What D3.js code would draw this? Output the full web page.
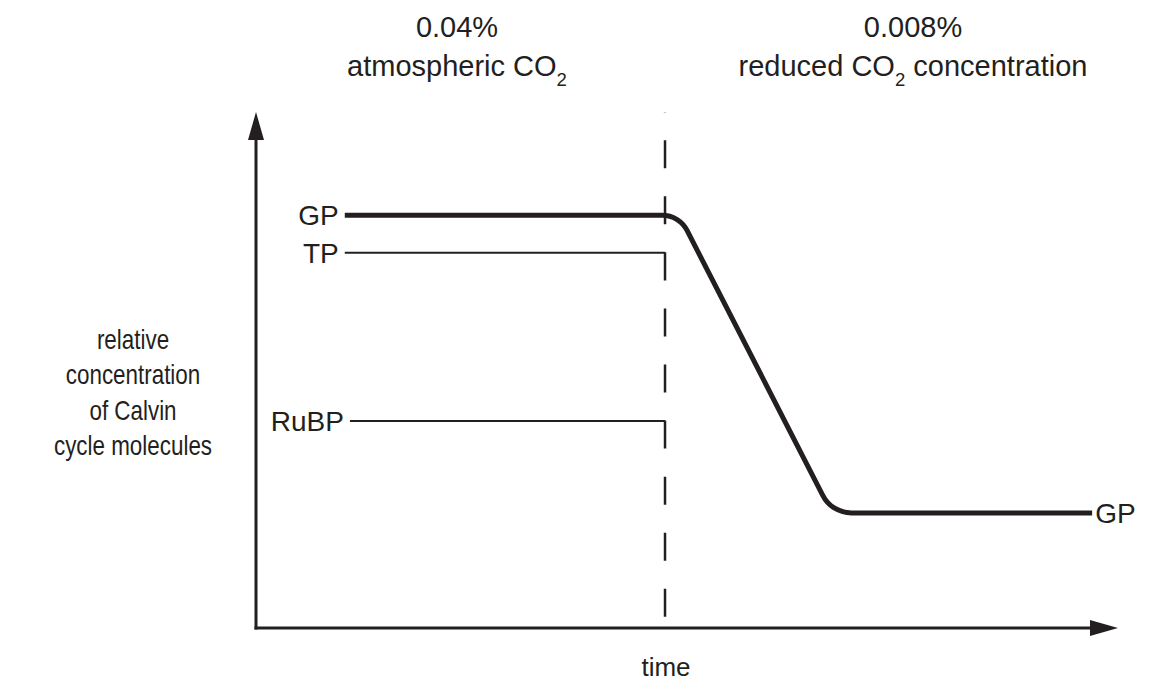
<!DOCTYPE html>
<html>
<head>
<meta charset="utf-8">
<script src="https://cdn.jsdelivr.net/npm/d3@7"></script>
<style>
  html, body { margin: 0; padding: 0; background: #fff; }
  svg { display: block; }
  text { font-family: "Liberation Sans", Arial, sans-serif; fill: #231f20; }
</style>
</head>
<body>
<script>
// ---- data (arbitrary time / relative concentration units) ----
const switchTime = 4.745;                 // CO2 reduced here (dashed line)
const lineStart = 1.03;
const lineStartRuBP = 1.09;
const gpTimes = [1.03, 4.91, 6.68, 9.70];
const gpValues = [8.0, 8.0, 2.23, 2.23];
const tpTimes = [1.03, 4.745];
const tpValues = [7.27, 7.27];
const rubpTimes = [1.09, 4.745];
const rubpValues = [4.01, 4.01];
const leftLabels = ["GP", "TP", "RuBP"];
const leftLabelValues = [8.0, 7.27, 4.01];
const yAxisLabelLines = ["relative", "concentration", "of Calvin", "cycle molecules"];
const xAxisLabel = "time";

const W = 1173, H = 684;
const svg = d3.select("body").append("svg").attr("width", W).attr("height", H);

const x = d3.scaleLinear().domain([0, 10]).range([256, 1118]);
const y = d3.scaleLinear().domain([0, 10]).range([628, 112]);
const ink = "#231f20";
const fsLabel = 28, fsTop = 29, fsAxis = 27, fsTime = 26;

// axes
svg.append("line").attr("x1", x(0)).attr("x2", x(0)).attr("y1", y(0) + 1.5).attr("y2", y(10) + 20)
  .attr("stroke", ink).attr("stroke-width", 3);
svg.append("line").attr("x1", x(0) - 1.5).attr("x2", x(10) - 20).attr("y1", y(0)).attr("y2", y(0))
  .attr("stroke", ink).attr("stroke-width", 3);
// arrowheads
svg.append("path").attr("fill", ink)
  .attr("d", `M${x(0)},${y(10)} L${x(0) - 8},${y(10) + 28} L${x(0) + 8},${y(10) + 28} Z`);
svg.append("path").attr("fill", ink)
  .attr("d", `M${x(10)},${y(0)} L${x(10) - 28},${y(0) - 8} L${x(10) - 28},${y(0) + 8} Z`);

// dashed divider
const dashPeriod = (y(4.01) - y(7.27)) / 3;
svg.append("line")
  .attr("x1", x(switchTime)).attr("x2", x(switchTime))
  .attr("y1", y(10)).attr("y2", y(0))
  .attr("stroke", ink).attr("stroke-width", 2.5)
  .attr("stroke-dasharray", `${dashPeriod / 2},${dashPeriod / 2}`)
  .attr("stroke-dashoffset", ((y(10) - (y(7.27) - 3 * dashPeriod - 0.5)) % dashPeriod));

// thin lines TP / RuBP
const thin = d3.line().x(d => x(d[0])).y(d => y(d[1]));
svg.append("path").attr("d", thin(d3.zip(tpTimes, tpValues)))
  .attr("fill", "none").attr("stroke", ink).attr("stroke-width", 2);
svg.append("path").attr("d", thin(d3.zip(rubpTimes, rubpValues)))
  .attr("fill", "none").attr("stroke", ink).attr("stroke-width", 2);

// GP thick line with rounded corners
const pts = d3.zip(gpTimes, gpValues).map(d => [x(d[0]), y(d[1])]);
const p = d3.path();
p.moveTo(pts[0][0], pts[0][1]);
p.arcTo(pts[1][0], pts[1][1], pts[2][0], pts[2][1], 28);
p.arcTo(pts[2][0], pts[2][1], pts[3][0], pts[3][1], 32);
p.lineTo(pts[3][0], pts[3][1]);
svg.append("path").attr("d", p.toString()).attr("fill", "none")
  .attr("stroke", ink).attr("stroke-width", 5);

// left labels
svg.selectAll("text.left").data(leftLabels).join("text")
  .attr("class", "left")
  .attr("x", (d, i) => i === 2 ? x(lineStartRuBP) - 6 : x(lineStart) - 6)
  .attr("y", (d, i) => y(leftLabelValues[i]))
  .attr("dy", "0.36em")
  .attr("text-anchor", "end")
  .attr("font-size", fsLabel)
  .text(d => d);

// right GP label
svg.append("text").attr("x", x(gpTimes[3]) + 3).attr("y", y(gpValues[3])).attr("dy", "0.36em")
  .attr("font-size", fsLabel).text("GP");

// y axis label (slightly condensed type, as in the reference)
const yl = svg.append("text").attr("text-anchor", "middle").attr("font-size", fsAxis)
  .attr("transform", "translate(133,0) scale(0.83,1)");
yAxisLabelLines.forEach((t, i) => {
  yl.append("tspan").attr("x", 0).attr("y", 349 + i * 35.5).text(t);
});

// x axis label
svg.append("text").attr("x", x(switchTime) + 1).attr("y", 676).attr("text-anchor", "middle")
  .attr("font-size", fsTime).text(xAxisLabel);

// top labels
function co2Label(cx, top, pre, post) {
  svg.append("text").attr("x", cx).attr("y", 37).attr("text-anchor", "middle")
    .attr("font-size", fsTop).text(top);
  const t = svg.append("text").attr("x", cx).attr("y", 76).attr("text-anchor", "middle")
    .attr("font-size", fsTop);
  t.append("tspan").text(pre + "CO");
  t.append("tspan").attr("font-size", fsTop * 0.64).attr("dy", 10).text("2");
  if (post) t.append("tspan").attr("dy", -10).text(post);
}
co2Label(457, "0.04%", "atmospheric ", "");
co2Label(913, "0.008%", "reduced ", " concentration");
</script>
</body>
</html>
